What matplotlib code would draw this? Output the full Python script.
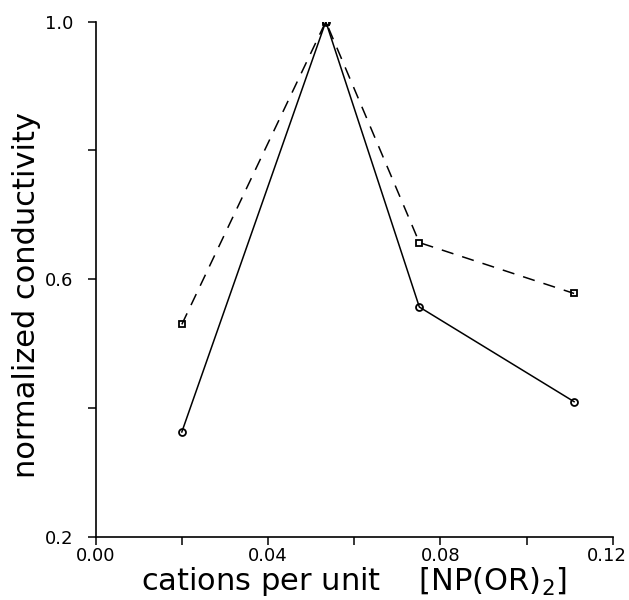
import matplotlib

matplotlib.use("Agg")
import matplotlib.pyplot as plt
import matplotlib.transforms as mtransforms
from matplotlib.ticker import FixedLocator

plt.rcParams["font.family"] = ["DejaVu Sans"]
plt.rcParams["mathtext.default"] = "regular"

# cation content per [NP(OR)2] unit
cations = [0.020, 0.0534, 0.0751, 0.111]
cond_solid = [0.363, 1.0, 0.557, 0.410]
cond_dashed = [0.530, 1.0, 0.657, 0.578]

x_major = [0.0, 0.04, 0.08, 0.12]
x_minor = [0.02, 0.06, 0.10]
y_major = [0.2, 0.6, 1.0]
y_minor = [0.4, 0.8]

fig = plt.figure(figsize=(6.29, 6.0), dpi=100)
fig.patch.set_facecolor("#FFFFFF")
ax = fig.add_axes([0.152, 0.105, 0.8224, 0.859])

ax.plot(cations, cond_solid, color="#000000", lw=1.1, marker="o", ms=5,
        mfc="none", mew=1.3)
ax.plot(cations, cond_dashed, color="#000000", lw=1.1, dashes=(8, 6),
        marker="s", ms=5, mfc="none", mew=1.3)

ax.set_xlim(0.0, 0.12)
ax.set_ylim(0.2, 1.0)
ax.xaxis.set_major_locator(FixedLocator(x_major))
ax.xaxis.set_minor_locator(FixedLocator(x_minor))
ax.yaxis.set_major_locator(FixedLocator(y_major))
ax.yaxis.set_minor_locator(FixedLocator(y_minor))
ax.xaxis.set_major_formatter(lambda v, p: f"{v:.2f}")
ax.yaxis.set_major_formatter(lambda v, p: f"{v:.1f}")

for side in ["top", "right"]:
    ax.spines[side].set_visible(False)
for side in ["left", "bottom"]:
    ax.spines[side].set_linewidth(1.2)

ax.tick_params(which="both", direction="out", length=6, width=1.1,
               labelsize=13)
ax.tick_params(axis="y", pad=10)
ax.tick_params(axis="x", pad=1)

# last x label sits against the right edge, nudge it in a little
fig.canvas.draw()
last = ax.get_xticklabels()[-1]
last.set_transform(last.get_transform()
                   + mtransforms.ScaledTranslation(-6 / 100, 0, fig.dpi_scale_trans))

ax.set_xlabel(r"cations per unit    [NP(OR)$_2$]", fontsize=22, labelpad=0)
ax.set_ylabel("normalized conductivity", fontsize=22)
ax.yaxis.set_label_coords(-0.105, 0.47)

plt.savefig("out.png", dpi=100)
plt.close()
